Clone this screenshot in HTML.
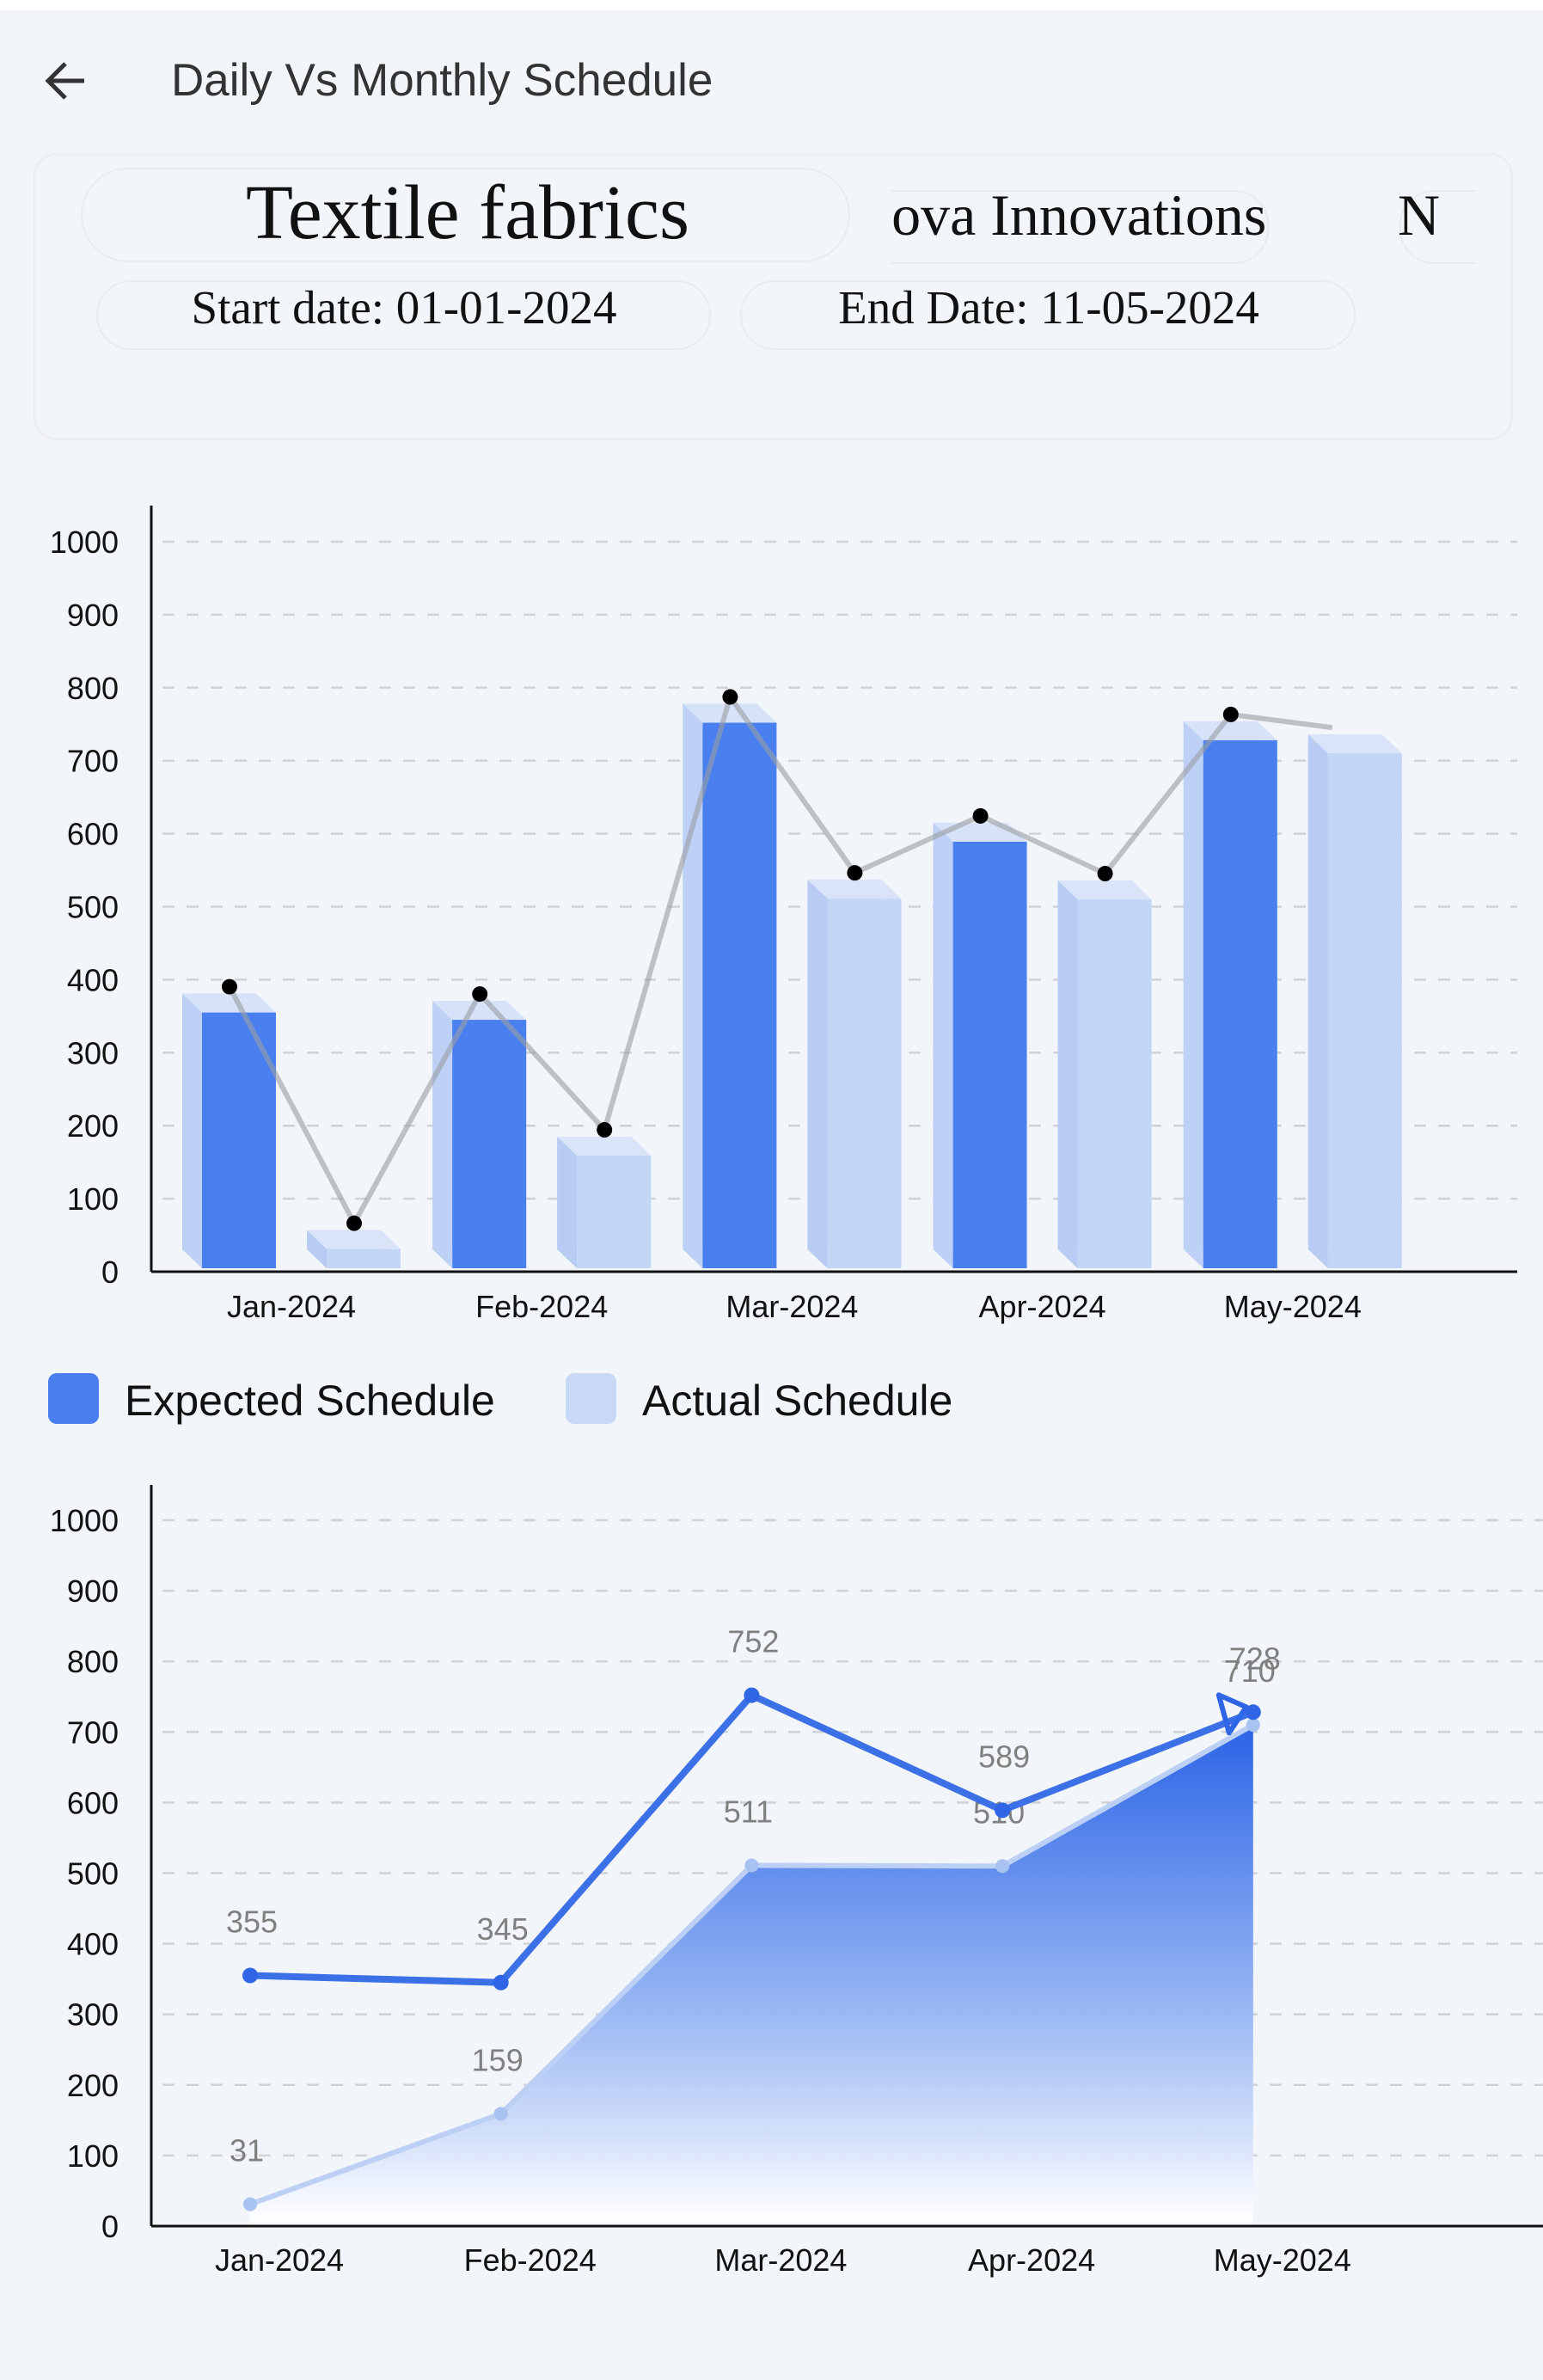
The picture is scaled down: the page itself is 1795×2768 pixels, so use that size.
<!DOCTYPE html>
<html><head><meta charset="utf-8">
<style>
html,body{margin:0;padding:0;}
body{width:1795px;height:2768px;background:#f2f5f9;overflow:hidden;position:relative;font-family:"Liberation Sans",sans-serif;}
.abs{position:absolute;}
.pill{position:absolute;border:2px solid #e9ecef;border-radius:40px;box-sizing:border-box;}
.serif{font-family:"Liberation Serif",serif;color:#111;position:absolute;white-space:nowrap;}
</style></head>
<body>
<div class="abs" style="left:0;top:0;width:1795px;height:12px;background:#fff"></div>
<svg class="abs" style="left:50px;top:70px" width="52" height="48" viewBox="0 0 52 48"><path d="M48 24H6M26 4L6 24l20 20" fill="none" stroke="#333" stroke-width="5"/></svg>
<div class="abs" style="left:199px;top:63px;font-size:53px;color:#333;white-space:nowrap">Daily Vs Monthly Schedule</div>

<div class="abs" style="left:39px;top:178px;width:1721px;height:334px;border:3px solid #eceef1;border-radius:26px;box-sizing:border-box;overflow:hidden">
  <div class="pill" style="left:52px;top:14px;width:895px;height:110px;border-radius:55px"></div>
  <div class="serif" style="left:502px;top:15px;font-size:90px;transform:translateX(-50%)">Textile fabrics</div>
  <div class="abs" style="left:994px;top:30px;width:446px;height:110px;overflow:hidden">
    <div class="pill" style="left:-60px;top:10px;width:500px;height:86px"></div>
    <div class="serif" style="left:-48px;top:0px;font-size:68px">Nova Innovations</div>
  </div>
  <div class="abs" style="left:1580px;top:30px;width:95px;height:110px;overflow:hidden">
    <div class="pill" style="left:6px;top:10px;width:300px;height:86px"></div>
    <div class="serif" style="left:4px;top:0px;font-size:68px">N</div>
  </div>
  <div class="pill" style="left:70px;top:145px;width:715px;height:81px"></div>
  <div class="serif" style="left:428px;top:145px;font-size:55px;transform:translateX(-50%)">Start date: 01-01-2024</div>
  <div class="pill" style="left:819px;top:145px;width:716px;height:81px"></div>
  <div class="serif" style="left:1178px;top:145px;font-size:55px;transform:translateX(-50%)">End Date: 11-05-2024</div>
</div>

<div class="abs" style="left:56px;top:1597px;height:60px;white-space:nowrap">
  <div class="abs" style="left:0;top:0;width:59px;height:59px;border-radius:10px;background:#4a7ff0"></div>
  <div class="abs" style="left:89px;top:3px;font-size:50px;color:#111">Expected Schedule</div>
</div>
<div class="abs" style="left:658px;top:1597px;height:60px;white-space:nowrap">
  <div class="abs" style="left:0;top:0;width:59px;height:59px;border-radius:10px;background:#c8d9f6"></div>
  <div class="abs" style="left:89px;top:3px;font-size:50px;color:#111">Actual Schedule</div>
</div>

<svg id="chart" class="abs" style="left:0;top:0" width="1795" height="2768"></svg>

<script>
const categories = ["Jan-2024","Feb-2024","Mar-2024","Apr-2024","May-2024"];
const expected = [355,345,752,589,728];
const actual = [31,159,511,510,710];
const yTicks = [0,100,200,300,400,500,600,700,800,900,1000];

const NS="http://www.w3.org/2000/svg";
const svg=document.getElementById('chart');
function mk(tag,attrs,parent){const e=document.createElementNS(NS,tag);for(const k in attrs)e.setAttribute(k,attrs[k]);(parent||svg).appendChild(e);return e;}

const defs=mk('defs',{});
const lg=mk('linearGradient',{id:'areaGrad',x1:0,y1:0,x2:0,y2:1},defs);
mk('stop',{offset:'0','stop-color':'#2a63e6','stop-opacity':'1'},lg);
mk('stop',{offset:'0.55','stop-color':'#8fb0f2','stop-opacity':'0.95'},lg);
mk('stop',{offset:'1','stop-color':'#ffffff','stop-opacity':'1'},lg);

// ---------- Chart 1 ----------
const c1={x0:176,x1:1765,top:588,base:1479,per:0.849,cx0:339,step:291.2};
const y1=v=>c1.base-v*c1.per;
const x1=i=>c1.cx0+i*c1.step;
const g1=mk('g',{});


yTicks.forEach(t=>{
  if(t>0){const l=mk('line',{x1:189,x2:c1.x1,y1:y1(t),y2:y1(t),stroke:'#cfd3d9','stroke-width':2.5,'stroke-dasharray':'14 14'},g1);
  }
  const tx=mk('text',{x:138,y:y1(t)+13,'text-anchor':'end','font-size':36,fill:'#111','font-family':'Liberation Sans'},g1);
  tx.textContent=t;
  
});
function bar3d(cx,v,front,sideC,topC,name){
  const w=86,dx=23,dy=22,b=c1.base-4,t=y1(v);
  const g=mk('g',{},g1);
  
  mk('rect',{x:cx-dx,y:t-dy,width:w,height:b-t,fill:'#c7d8f6',opacity:0.85},g);
  mk('polygon',{points:`${cx-dx},${t-dy} ${cx},${t} ${cx},${b} ${cx-dx},${b-dy}`,fill:sideC},g);
  mk('polygon',{points:`${cx-dx},${t-dy} ${cx-dx+w},${t-dy} ${cx+w},${t} ${cx},${t}`,fill:topC},g);
  mk('rect',{x:cx,y:t,width:w,height:b-t,fill:front},g);
}
categories.forEach((c,i)=>{
  const cx=x1(i);
  bar3d(cx-104,expected[i],'#4a7ff0','#bdd0f5','#d6e2f8','bar-expected');
  bar3d(cx+41,actual[i],'#c3d6f5','#b7cbf3','#d9e4f8','bar-actual');
  const tx=mk('text',{x:cx,y:1532,'text-anchor':'middle','font-size':36,fill:'#111','font-family':'Liberation Sans'},g1);
  tx.textContent=c;
  
});
const pts1=[];
categories.forEach((c,i)=>{const cx=x1(i);pts1.push([cx-104+32,y1(expected[i])-30]);pts1.push([cx+41+(i===categories.length-1?5:32),y1(actual[i])-30]);});
const pl=mk('polyline',{points:pts1.map(p=>p.join(',')).join(' '),fill:'none',stroke:'#9a9ea4','stroke-width':6,opacity:0.6},g1);

pts1.slice(0,-1).forEach(p=>{const d=mk('circle',{cx:p[0],cy:p[1],r:9,fill:'#000'},g1);
  });
mk('line',{x1:c1.x0,x2:c1.x0,y1:c1.top,y2:c1.base,stroke:'#111','stroke-width':3},g1);
mk('line',{x1:c1.x0,x2:c1.x1,y1:c1.base,y2:c1.base,stroke:'#111','stroke-width':3},g1);

// ---------- Chart 2 ----------
const c2={x0:176,x1:1795,top:1727,base:2589,per:0.821,px0:291,step:291.7};
const y2=v=>c2.base-v*c2.per;
const x2=i=>c2.px0+i*c2.step;
const g2=mk('g',{});


yTicks.forEach(t=>{
  if(t>0){const l=mk('line',{x1:189,x2:c2.x1,y1:y2(t),y2:y2(t),stroke:'#cfd3d9','stroke-width':2.5,'stroke-dasharray':'14 14'},g2);
  }
  const tx=mk('text',{x:138,y:y2(t)+13,'text-anchor':'end','font-size':36,fill:'#111','font-family':'Liberation Sans'},g2);
  tx.textContent=t;
  
});
categories.forEach((c,i)=>{
  const tx=mk('text',{x:x2(i)+34,y:2641,'text-anchor':'middle','font-size':36,fill:'#111','font-family':'Liberation Sans'},g2);
  tx.textContent=c;
  
});
let ad=`M${x2(0)},${c2.base-4}`;
actual.forEach((v,i)=>{ad+=` L${x2(i)},${y2(v)}`;});
ad+=` L${x2(actual.length-1)},${c2.base-4} Z`;
const area=mk('path',{d:ad,fill:'url(#areaGrad)'},g2);

const al=mk('polyline',{points:actual.map((v,i)=>x2(i)+','+y2(v)).join(' '),fill:'none',stroke:'#bcd0f5','stroke-width':6},g2);

actual.forEach((v,i)=>{const d=mk('circle',{cx:x2(i),cy:y2(v),r:8,fill:'#a8c2f1'},g2);
  
  const t=mk('text',{x:x2(i)-4,y:y2(v)-50,'text-anchor':'middle','font-size':36,fill:'#808080','font-family':'Liberation Sans'},g2);
  t.textContent=v;
  });
const el=mk('polyline',{points:expected.map((v,i)=>x2(i)+','+y2(v)).join(' '),fill:'none',stroke:'#3b70e6','stroke-width':8,'stroke-linejoin':'round'},g2);

expected.forEach((v,i)=>{const d=mk('circle',{cx:x2(i),cy:y2(v),r:9,fill:'#2f66e6'},g2);
  
  const t=mk('text',{x:x2(i)+2,y:y2(v)-50,'text-anchor':'middle','font-size':36,fill:'#808080','font-family':'Liberation Sans'},g2);
  t.textContent=v;
  });
const n=expected.length-1, ex=x2(n), ey=y2(expected[n]);
const arr=mk('path',{d:`M${ex-40},${ey-20} L${ex-8},${ey-6} L${ex-28},${ey+24} Z`,fill:'none',stroke:'#2f66e6','stroke-width':6,'stroke-linejoin':'round'},g2);

mk('line',{x1:c2.x0,x2:c2.x0,y1:c2.top,y2:c2.base,stroke:'#111','stroke-width':3},g2);
mk('line',{x1:c2.x0,x2:c2.x1,y1:c2.base,y2:c2.base,stroke:'#111','stroke-width':3},g2);
</script>
</body></html>
